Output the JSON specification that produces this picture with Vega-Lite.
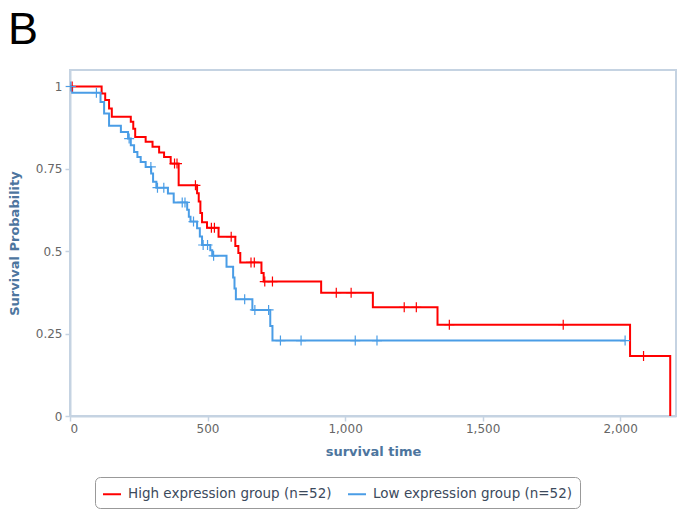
{
  "$schema": "https://vega.github.io/schema/vega-lite/v6.json",
  "width": 606,
  "height": 346,
  "autosize": {"type": "none"},
  "padding": {"left": 70, "top": 70, "right": 5, "bottom": 95},
  "background": "white",
  "title": {
    "text": "B",
    "anchor": "start",
    "frame": "group",
    "dx": -62,
    "dy": 19,
    "offset": 0,
    "baseline": "alphabetic",
    "font": "Liberation Sans",
    "fontSize": 45,
    "fontWeight": "normal",
    "color": "#000000"
  },
  "config": {
    "view": {"stroke": "#c5d3e2", "strokeWidth": 2},
    "axis": {
      "grid": false,
      "domainColor": "#c5d3e2",
      "domainWidth": 2,
      "tickColor": "#c5d3e2",
      "tickWidth": 1.5,
      "tickSize": 5,
      "labelFont": "DejaVu Sans",
      "labelFontSize": 12,
      "labelColor": "#666666",
      "titleFont": "DejaVu Sans",
      "titleFontSize": 13,
      "titleFontWeight": "bold",
      "titleColor": "#4d759e"
    }
  },
  "data": {
    "values": [
      {"g": "High expression group (n=52)", "t": 0, "s": 1, "c": 0},
      {"g": "High expression group (n=52)", "t": 8, "s": 1, "c": 1},
      {"g": "High expression group (n=52)", "t": 115, "s": 0.979, "c": 0},
      {"g": "High expression group (n=52)", "t": 128, "s": 0.959, "c": 0},
      {"g": "High expression group (n=52)", "t": 142, "s": 0.933, "c": 0},
      {"g": "High expression group (n=52)", "t": 152, "s": 0.908, "c": 0},
      {"g": "High expression group (n=52)", "t": 221, "s": 0.893, "c": 0},
      {"g": "High expression group (n=52)", "t": 230, "s": 0.872, "c": 0},
      {"g": "High expression group (n=52)", "t": 237, "s": 0.847, "c": 0},
      {"g": "High expression group (n=52)", "t": 275, "s": 0.832, "c": 0},
      {"g": "High expression group (n=52)", "t": 300, "s": 0.817, "c": 0},
      {"g": "High expression group (n=52)", "t": 324, "s": 0.8, "c": 0},
      {"g": "High expression group (n=52)", "t": 342, "s": 0.786, "c": 0},
      {"g": "High expression group (n=52)", "t": 366, "s": 0.766, "c": 0},
      {"g": "High expression group (n=52)", "t": 380, "s": 0.766, "c": 1},
      {"g": "High expression group (n=52)", "t": 389, "s": 0.766, "c": 1},
      {"g": "High expression group (n=52)", "t": 395, "s": 0.7, "c": 0},
      {"g": "High expression group (n=52)", "t": 456, "s": 0.7, "c": 1},
      {"g": "High expression group (n=52)", "t": 462, "s": 0.676, "c": 0},
      {"g": "High expression group (n=52)", "t": 468, "s": 0.651, "c": 0},
      {"g": "High expression group (n=52)", "t": 474, "s": 0.616, "c": 0},
      {"g": "High expression group (n=52)", "t": 480, "s": 0.588, "c": 0},
      {"g": "High expression group (n=52)", "t": 498, "s": 0.571, "c": 0},
      {"g": "High expression group (n=52)", "t": 514, "s": 0.571, "c": 1},
      {"g": "High expression group (n=52)", "t": 525, "s": 0.571, "c": 1},
      {"g": "High expression group (n=52)", "t": 540, "s": 0.544, "c": 0},
      {"g": "High expression group (n=52)", "t": 586, "s": 0.544, "c": 1},
      {"g": "High expression group (n=52)", "t": 601, "s": 0.516, "c": 0},
      {"g": "High expression group (n=52)", "t": 612, "s": 0.495, "c": 0},
      {"g": "High expression group (n=52)", "t": 619, "s": 0.466, "c": 0},
      {"g": "High expression group (n=52)", "t": 658, "s": 0.466, "c": 1},
      {"g": "High expression group (n=52)", "t": 670, "s": 0.466, "c": 1},
      {"g": "High expression group (n=52)", "t": 696, "s": 0.434, "c": 0},
      {"g": "High expression group (n=52)", "t": 704, "s": 0.408, "c": 0},
      {"g": "High expression group (n=52)", "t": 708, "s": 0.408, "c": 1},
      {"g": "High expression group (n=52)", "t": 736, "s": 0.408, "c": 1},
      {"g": "High expression group (n=52)", "t": 913, "s": 0.374, "c": 0},
      {"g": "High expression group (n=52)", "t": 968, "s": 0.374, "c": 1},
      {"g": "High expression group (n=52)", "t": 1022, "s": 0.374, "c": 1},
      {"g": "High expression group (n=52)", "t": 1101, "s": 0.33, "c": 0},
      {"g": "High expression group (n=52)", "t": 1215, "s": 0.33, "c": 1},
      {"g": "High expression group (n=52)", "t": 1259, "s": 0.33, "c": 1},
      {"g": "High expression group (n=52)", "t": 1336, "s": 0.277, "c": 0},
      {"g": "High expression group (n=52)", "t": 1379, "s": 0.277, "c": 1},
      {"g": "High expression group (n=52)", "t": 1793, "s": 0.277, "c": 1},
      {"g": "High expression group (n=52)", "t": 2036, "s": 0.182, "c": 0},
      {"g": "High expression group (n=52)", "t": 2085, "s": 0.182, "c": 1},
      {"g": "High expression group (n=52)", "t": 2182, "s": 0, "c": 0},
      {"g": "Low expression group (n=52)", "t": 0, "s": 1, "c": 0},
      {"g": "Low expression group (n=52)", "t": 3, "s": 1, "c": 1},
      {"g": "Low expression group (n=52)", "t": 8, "s": 0.981, "c": 0},
      {"g": "Low expression group (n=52)", "t": 96, "s": 0.981, "c": 1},
      {"g": "Low expression group (n=52)", "t": 111, "s": 0.953, "c": 0},
      {"g": "Low expression group (n=52)", "t": 124, "s": 0.918, "c": 0},
      {"g": "Low expression group (n=52)", "t": 142, "s": 0.881, "c": 0},
      {"g": "Low expression group (n=52)", "t": 185, "s": 0.862, "c": 0},
      {"g": "Low expression group (n=52)", "t": 211, "s": 0.842, "c": 0},
      {"g": "Low expression group (n=52)", "t": 215, "s": 0.842, "c": 1},
      {"g": "Low expression group (n=52)", "t": 221, "s": 0.822, "c": 0},
      {"g": "Low expression group (n=52)", "t": 233, "s": 0.801, "c": 0},
      {"g": "Low expression group (n=52)", "t": 245, "s": 0.786, "c": 0},
      {"g": "Low expression group (n=52)", "t": 257, "s": 0.771, "c": 0},
      {"g": "Low expression group (n=52)", "t": 275, "s": 0.756, "c": 0},
      {"g": "Low expression group (n=52)", "t": 294, "s": 0.756, "c": 1},
      {"g": "Low expression group (n=52)", "t": 295, "s": 0.736, "c": 0},
      {"g": "Low expression group (n=52)", "t": 302, "s": 0.711, "c": 0},
      {"g": "Low expression group (n=52)", "t": 314, "s": 0.693, "c": 0},
      {"g": "Low expression group (n=52)", "t": 318, "s": 0.693, "c": 1},
      {"g": "Low expression group (n=52)", "t": 341, "s": 0.693, "c": 1},
      {"g": "Low expression group (n=52)", "t": 356, "s": 0.675, "c": 0},
      {"g": "Low expression group (n=52)", "t": 377, "s": 0.648, "c": 0},
      {"g": "Low expression group (n=52)", "t": 408, "s": 0.648, "c": 1},
      {"g": "Low expression group (n=52)", "t": 418, "s": 0.648, "c": 1},
      {"g": "Low expression group (n=52)", "t": 426, "s": 0.626, "c": 0},
      {"g": "Low expression group (n=52)", "t": 432, "s": 0.605, "c": 0},
      {"g": "Low expression group (n=52)", "t": 438, "s": 0.59, "c": 0},
      {"g": "Low expression group (n=52)", "t": 449, "s": 0.59, "c": 1},
      {"g": "Low expression group (n=52)", "t": 462, "s": 0.57, "c": 0},
      {"g": "Low expression group (n=52)", "t": 472, "s": 0.545, "c": 0},
      {"g": "Low expression group (n=52)", "t": 480, "s": 0.519, "c": 0},
      {"g": "Low expression group (n=52)", "t": 484, "s": 0.519, "c": 1},
      {"g": "Low expression group (n=52)", "t": 500, "s": 0.519, "c": 1},
      {"g": "Low expression group (n=52)", "t": 510, "s": 0.503, "c": 0},
      {"g": "Low expression group (n=52)", "t": 517, "s": 0.486, "c": 0},
      {"g": "Low expression group (n=52)", "t": 522, "s": 0.486, "c": 1},
      {"g": "Low expression group (n=52)", "t": 569, "s": 0.453, "c": 0},
      {"g": "Low expression group (n=52)", "t": 593, "s": 0.42, "c": 0},
      {"g": "Low expression group (n=52)", "t": 598, "s": 0.387, "c": 0},
      {"g": "Low expression group (n=52)", "t": 603, "s": 0.354, "c": 0},
      {"g": "Low expression group (n=52)", "t": 635, "s": 0.354, "c": 1},
      {"g": "Low expression group (n=52)", "t": 663, "s": 0.322, "c": 0},
      {"g": "Low expression group (n=52)", "t": 672, "s": 0.322, "c": 1},
      {"g": "Low expression group (n=52)", "t": 722, "s": 0.322, "c": 1},
      {"g": "Low expression group (n=52)", "t": 728, "s": 0.273, "c": 0},
      {"g": "Low expression group (n=52)", "t": 736, "s": 0.229, "c": 0},
      {"g": "Low expression group (n=52)", "t": 765, "s": 0.229, "c": 1},
      {"g": "Low expression group (n=52)", "t": 840, "s": 0.229, "c": 1},
      {"g": "Low expression group (n=52)", "t": 1037, "s": 0.229, "c": 1},
      {"g": "Low expression group (n=52)", "t": 1116, "s": 0.229, "c": 1},
      {"g": "Low expression group (n=52)", "t": 2018, "s": 0.229, "c": 1}
    ]
  },
  "encoding": {
    "x": {
      "field": "t",
      "type": "quantitative",
      "title": "survival time",
      "scale": {"domain": [0, 2203], "nice": false, "zero": true},
      "axis": {"values": [0, 500, 1000, 1500, 2000], "labelExpr": "format(datum.value, ',')", "labelPadding": 2, "titlePadding": 11}
    },
    "y": {
      "field": "s",
      "type": "quantitative",
      "title": "Survival Probability",
      "scale": {"domain": [0, 1.05], "nice": false},
      "axis": {"values": [0, 0.25, 0.5, 0.75, 1], "labelExpr": "'' + datum.value", "labelPadding": 3, "titlePadding": 14}
    },
    "color": {
      "field": "g",
      "type": "nominal",
      "scale": {
        "domain": ["High expression group (n=52)", "Low expression group (n=52)"],
        "range": ["#ff0000", "#4a9de6"]
      },
      "legend": {
        "title": null,
        "orient": "none",
        "direction": "horizontal",
        "legendX": 25,
        "legendY": 407,
        "symbolType": "stroke",
        "symbolSize": 324,
        "symbolStrokeWidth": 2,
        "labelFont": "DejaVu Sans",
        "labelFontSize": 13.5,
        "labelColor": "#3c4a5c",
        "labelLimit": 0,
        "labelOffset": 6,
        "columnPadding": 12,
        "padding": 7,
        "strokeColor": "#999999",
        "cornerRadius": 5,
        "fillColor": "white"
      }
    }
  },
  "layer": [
    {
      "mark": {"type": "line", "interpolate": "step-after", "strokeWidth": 2}
    },
    {
      "transform": [{"filter": "datum.c == 1"}],
      "mark": {
        "type": "point",
        "shape": "M-1,0H1M0,-1V1",
        "filled": false,
        "size": 100,
        "strokeWidth": 1.2,
        "opacity": 1
      }
    }
  ]
}
